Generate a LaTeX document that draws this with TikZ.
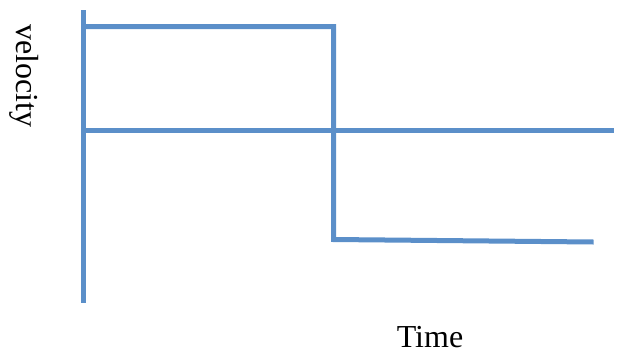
\documentclass[tikz,border=0pt]{standalone}
\usepackage{fontspec}
\setmainfont{Liberation Serif}
\definecolor{linec}{RGB}{91,143,201}
\tikzset{
  plotline/.style={draw=linec, line width=5pt},
  lbl/.style={font=\fontsize{32}{38}\selectfont, inner sep=0pt}
}
\begin{document}
\begin{tikzpicture}[x=1pt,y=-1pt]
\useasboundingbox (0,0) rectangle (618,349);
\coordinate (ytop) at (83.5,10);
\coordinate (ybot) at (83.5,302.5);
\coordinate (xl) at (81,130);
\coordinate (xr) at (614,130);
\coordinate (p0) at (86,26.5);
\coordinate (p1) at (333.5,26.5);
\coordinate (p2) at (333.5,239.5);
\coordinate (p3) at (593.7,242);
\draw[plotline] (ytop) -- (ybot);
\draw[plotline] (xl) -- (xr);
\draw[plotline, line join=miter] (p0) -- (p1) -- (p2) -- (p3);
\node[lbl, rotate=-90] (vel) at (24,76) {velocity};
\node[lbl, anchor=base] (time) at (430,347) {Time};
\end{tikzpicture}
\end{document}
